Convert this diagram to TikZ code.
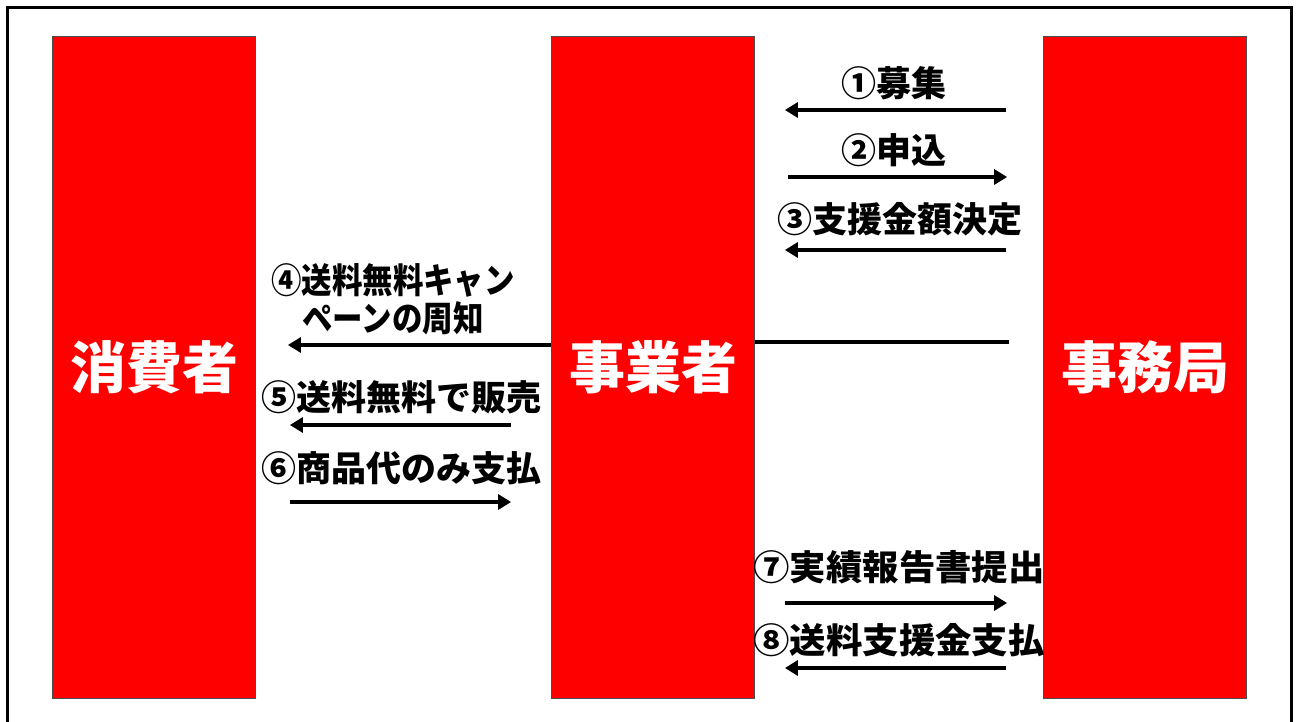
\documentclass[tikz,border=0pt]{standalone}
\usepackage{fontspec}
\setmainfont{Noto Sans CJK JP}
\usetikzlibrary{arrows.meta}

\begin{document}
\begin{tikzpicture}[x=1pt, y=-1pt,
  party/.style={draw=black!70, line width=0.8pt, fill=red, text=white,
    minimum width=203pt, minimum height=662pt, inner sep=0pt,
    font=\bfseries\fontsize{56}{60}\selectfont},
  msg/.style={inner sep=0pt, font=\bfseries\fontsize{35}{38}\selectfont},
  arr/.style={line width=4.2pt, -{Triangle[length=13pt,width=15pt]}}]
\useasboundingbox (0,0) rectangle (1298,722);
\draw[line width=3pt] (7,722) -- (7,8) -- (1291,8) -- (1291,722);
% the three parties
\node[party] (shohisha)  at (154,367)  {消費者};
\node[party] (jigyosha)  at (653,367)  {事業者};
\node[party] (jimukyoku) at (1145,367) {事務局};
% labels
\node[msg] (m1) at (894,83)  {①募集};
\node[msg] (m2) at (894,150) {②申込};
\node[msg] (m3) at (900,219) {③支援金額決定};
\node[msg, align=center] (m4) at (393,299) {\scalebox{0.87}[1]{④送料無料キャン}\\\scalebox{0.87}[1]{ペーンの周知}};
\node[msg] (m5) at (401,397) {⑤送料無料で販売};
\node[msg] (m6) at (401,468) {⑥商品代のみ支払};
\node[msg] (m7) at (899,567) {\scalebox{1.04}[1]{⑦実績報告書提出}};
\node[msg] (m8) at (899,640) {\scalebox{1.04}[1]{⑧送料支援金支払}};
% arrows
\draw[arr, shorten <=37pt, shorten >=30pt] (jimukyoku.west |- 0,110) -- (jigyosha.east |- 0,110);
\draw[arr, shorten <=33pt, shorten >=36pt] (jigyosha.east |- 0,177) -- (jimukyoku.west |- 0,177);
\draw[arr, shorten <=37pt, shorten >=30pt] (jimukyoku.west |- 0,250) -- (jigyosha.east |- 0,250);
\draw[line width=4.2pt, shorten <=34pt] (jimukyoku.west |- 0,342) -- (jigyosha.east |- 0,342);
\draw[arr, shorten >=32pt] (jigyosha.west |- 0,345) -- (shohisha.east |- 0,345);
\draw[arr, shorten <=40pt, shorten >=34pt] (jigyosha.west |- 0,425) -- (shohisha.east |- 0,425);
\draw[arr, shorten <=34pt, shorten >=40pt] (shohisha.east |- 0,502) -- (jigyosha.west |- 0,502);
\draw[arr, shorten <=30pt, shorten >=36pt] (jigyosha.east |- 0,603) -- (jimukyoku.west |- 0,603);
\draw[arr, shorten <=37pt, shorten >=30pt] (jimukyoku.west |- 0,668) -- (jigyosha.east |- 0,668);
\end{tikzpicture}
\end{document}
